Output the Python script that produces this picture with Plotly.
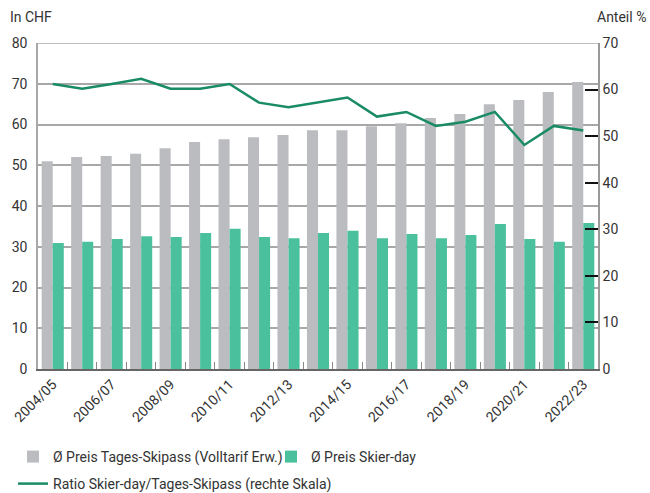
import plotly.graph_objects as go

seasons = ["2004/05", "2005/06", "2006/07", "2007/08", "2008/09", "2009/10", "2010/11",
           "2011/12", "2012/13", "2013/14", "2014/15", "2015/16", "2016/17", "2017/18",
           "2018/19", "2019/20", "2020/21", "2021/22", "2022/23"]
preis_skipass = [51.0, 52.0, 52.3, 52.8, 54.2, 55.7, 56.4, 56.9, 57.4, 58.6, 58.6, 59.6,
                 60.3, 61.6, 62.6, 65.0, 66.0, 68.0, 70.4]
preis_skierday = [30.9, 31.2, 31.9, 32.6, 32.4, 33.4, 34.4, 32.4, 32.1, 33.4, 33.9, 32.1,
                  33.1, 32.1, 32.9, 35.6, 31.9, 31.2, 35.8]
ratio = [61.2, 60.2, 61.2, 62.3, 60.2, 60.2, 61.2, 57.2, 56.2, 57.2, 58.3, 54.2, 55.2,
         52.2, 53.1, 55.2, 48.1, 52.2, 51.2]
tick_text = [s if i % 2 == 0 else "" for i, s in enumerate(seasons)]

font_family = "Roboto, 'DejaVu Sans', sans-serif"
text_col = "#333333"

fig = go.Figure()
fig.add_trace(go.Bar(x=seasons, y=preis_skipass, name="Ø Preis Tages-Skipass (Volltarif Erw.)",
                     marker=dict(color="#bbbcbf", line=dict(width=0)), legend="legend"))
fig.add_trace(go.Bar(x=seasons, y=preis_skierday, name="Ø Preis Skier-day",
                     marker=dict(color="#4bc09c", line=dict(width=0)), legend="legend"))
fig.add_trace(go.Scatter(x=seasons, y=ratio, name="Ratio Skier-day/Tages-Skipass (rechte Skala)",
                         mode="lines", line=dict(color="#198c64", width=2.5), yaxis="y2",
                         legend="legend2"))

leg_common = dict(orientation="h", xref="container", yref="container", xanchor="left",
                  yanchor="middle", font=dict(size=14, color=text_col),
                  itemwidth=30, bgcolor="rgba(0,0,0,0)")

fig.update_layout(
    width=650, height=493,
    margin=dict(l=38, r=52, t=43, b=124, autoexpand=False),
    paper_bgcolor="white", plot_bgcolor="white",
    font=dict(family=font_family, size=14, color=text_col),
    barmode="group", bargap=0.25, bargroupgap=0,
    showlegend=True,
    legend=dict(x=0.02, y=1 - 457 / 493, entrywidth=213, **leg_common),
    legend2=dict(x=0.02, y=1 - 484 / 493, **leg_common),
    xaxis=dict(type="category", tickmode="array", tickvals=seasons, ticktext=tick_text,
               tickangle=-45, tickson="boundaries", ticks="inside", ticklen=7,
               tickcolor="#888888", showline=True, linecolor="#666666", linewidth=1.5,
               showgrid=False, tickfont=dict(size=14, color=text_col), automargin=False),
    yaxis=dict(range=[0, 80], dtick=10, showgrid=True, gridcolor="#a8a8a8", gridwidth=1.5,
               showline=True, linecolor="#a8a8a8", linewidth=1.5, ticks="",
               zeroline=False, tickfont=dict(size=14, color=text_col), ticklabelstandoff=6,
               automargin=False),
    yaxis2=dict(range=[0, 70], dtick=10, overlaying="y", side="right", showgrid=False,
                showline=True, linecolor="#999999", linewidth=1.5, ticks="inside",
                ticklen=13, tickcolor="#111111", tickwidth=1.5, zeroline=False,
                tickfont=dict(size=14, color=text_col), automargin=False),
    annotations=[
        dict(text="In CHF", xref="paper", yref="paper", x=(8 - 38) / 560, y=(369 - 17) / 326,
             xanchor="left", yanchor="middle", showarrow=False,
             font=dict(size=14, color=text_col)),
        dict(text="Anteil %", xref="paper", yref="paper", x=(648 - 38) / 560, y=(369 - 17) / 326,
             xanchor="right", yanchor="middle", showarrow=False,
             font=dict(size=14, color=text_col)),
    ],
    shapes=[dict(type="line", xref="paper", yref="y", x0=0, x1=1, y0=80, y1=80,
                 line=dict(color="#a8a8a8", width=1.5))],
)

fig.write_html("out.html", config={"displayModeBar": False},
               post_script="document.body.style.margin='0';document.body.style.overflow='hidden';")
